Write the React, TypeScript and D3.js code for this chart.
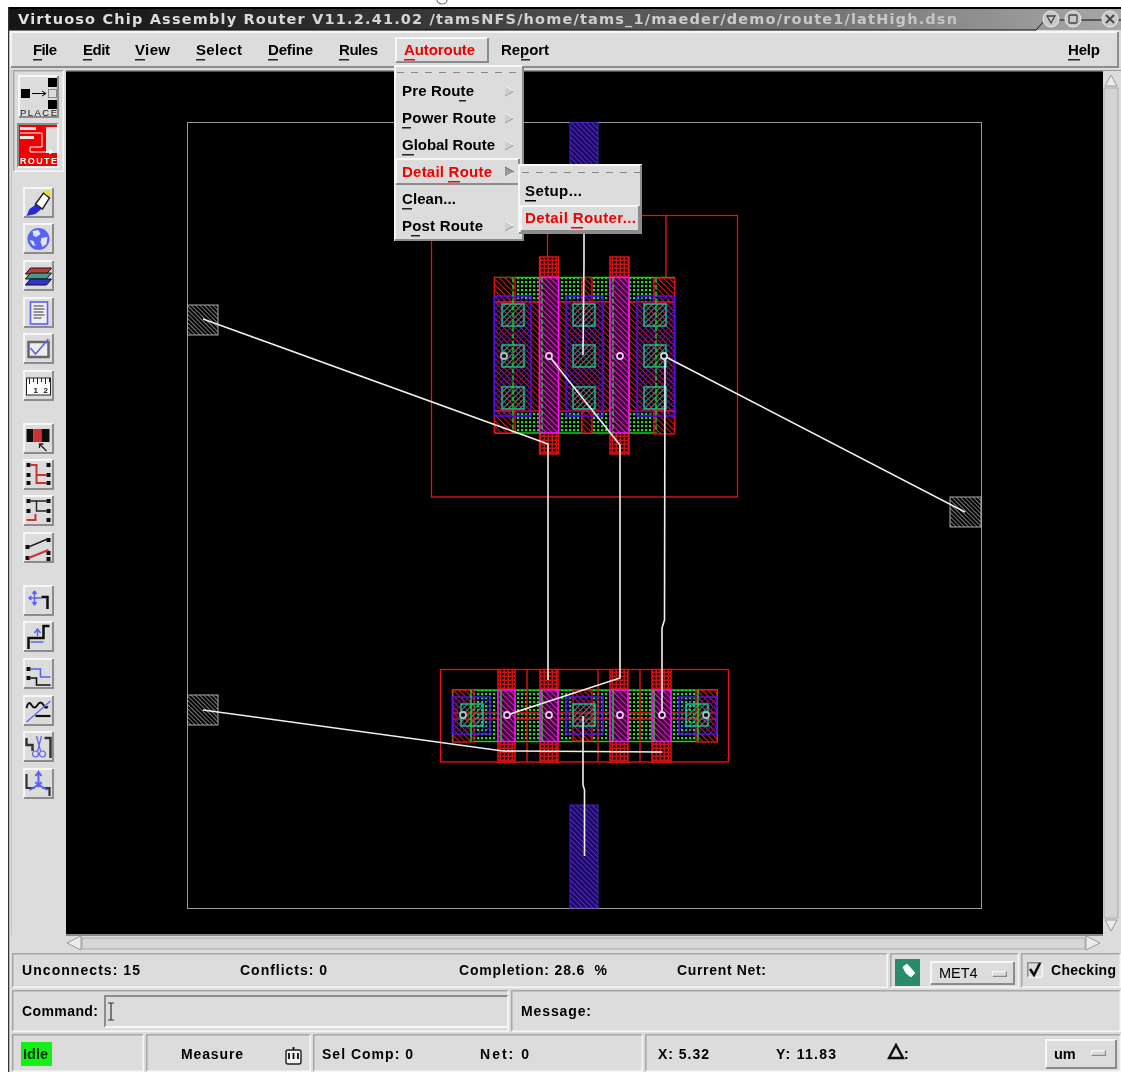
import React from "react";
import * as d3 from "d3";

// ---------- screen text ----------
const titleText = "Virtuoso Chip Assembly Router V11.2.41.02 /tamsNFS/home/tams_1/maeder/demo/route1/latHigh.dsn";
const menuLabels = ["File", "Edit", "View", "Select", "Define", "Rules", "Autoroute", "Report", "Help"];
const menuXs = [33, 83, 135, 196, 268, 339, 404, 501, 1068];
const menuWs = [24, 27, 35, 46, 45, 39, 71, 48, 32];
const menuUnder = [[33, 42], [83, 92], [135, 145], [196, 205], [268, 278], [339, 349], [404, 415], [521, 530], [1068, 1080]];
const autorouteItems = ["Pre Route", "Power Route", "Global Route", "Detail Route", "Clean...", "Post Route"];
const autorouteWs = [72, 94, 93, 90, 54, 81];
const autorouteUnder = [[459, 466], [402, 411], [402, 414], [448, 460], [402, 412], [411, 420]];
const autorouteHasArrow = [true, true, true, true, false, true];
const detailItems = ["Setup...", "Detail Router..."];
const detailWs = [57, 111];
const detailUnder = [[525, 536], [571, 583]];
const statusTexts = [
  { t: "Unconnects: 15", x: 22, y: 975, w: 118 },
  { t: "Conflicts: 0", x: 240, y: 975, w: 87 },
  { t: "Completion: 28.6  %", x: 459, y: 975, w: 148 },
  { t: "Current Net:", x: 677, y: 975, w: 89 },
  { t: "Checking", x: 1051, y: 975, w: 65 },
  { t: "Command:", x: 22, y: 1016, w: 76 },
  { t: "Message:", x: 521, y: 1016, w: 70 },
  { t: "Measure", x: 181, y: 1059, w: 62 },
  { t: "Sel Comp: 0", x: 322, y: 1059, w: 91 },
  { t: "Net: 0", x: 480, y: 1059, w: 49 },
  { t: "X: 5.32", x: 658, y: 1059, w: 51 },
  { t: "Y: 11.83", x: 776, y: 1059, w: 60 },
];
const toolY = [203, 239, 276, 313, 349, 386, 439, 475, 511, 548, 601, 637, 674, 711, 747, 784];

// ---------- layout geometry (layout units, mapped by the scales below) ----------
type R = [number, number, number, number];
const board: R = [187.5, 122.5, 981.5, 908.5];
const padsGrey: R[] = [[187.5, 305, 218, 335], [187.5, 695, 218, 725], [950, 497, 981, 527]];
const padsBlue: R[] = [[570, 122.5, 598, 200], [570, 805, 598, 908]];
const frames: R[] = [[431.5, 215.5, 737.5, 497], [440.5, 669.5, 728.5, 762]];

const diffusion: R[] = [[494.5, 277.5, 674.5, 433], [452.5, 690, 717, 741.5]];
const redFill: R[] = [
  [494.5, 302, 674.5, 411], [494.5, 277.5, 515, 302], [494.5, 411, 515, 433], [654, 278, 674.5, 302], [654, 411, 674.5, 434],
  [582, 277.5, 592, 302], [582, 411, 592, 433],
  [453, 690, 474, 742], [696, 690, 717, 742], [573, 690, 592, 741],
];
const metal: R[] = [
  [494.5, 296, 531, 416], [566, 296, 603, 416], [637, 296, 674.5, 416],
  [452.5, 697, 490, 734], [566, 697, 603, 734], [679, 697, 717, 734],
];
const polyFingers: R[] = [
  [539.5, 257, 558.5, 454], [610, 257, 629, 454],
  [498, 669.5, 515, 762], [540, 669.5, 558, 762], [610, 669.5, 628, 762], [652, 669.5, 671, 762],
];
const gates: R[] = [
  [539.5, 277.5, 558.5, 433], [610, 277.5, 629, 433],
  [498, 690, 515, 741.5], [540, 690, 558, 741.5], [610, 690, 628, 741.5], [652, 690, 671, 741.5],
];
const contactXU = [502, 573, 644];
const contactYU = [304, 345, 387];
const contactXL = [461, 573, 686];
const contactYL = [704];
const contactSize = 22;
const greenDashed = [513, 542, 613, 656];
const greenSolid = [471, 501, 542, 613, 654, 698];
const redVerts = [527, 553, 598, 617, 640];
const redStubs: [number, number, number][] = [[547.5, 215, 257], [666, 215, 278]];
const redHoriz: [number, number, number][] = [[453, 717, 713], [453, 717, 719]];
const pins: [number, number, string][] = [
  [504, 356, "#9cc"], [549, 356, "#fbf"], [620, 356, "#fbf"], [664, 356, "#cdd"],
  [463, 715, "#9cc"], [507, 715, "#fbf"], [549, 715, "#fbf"], [620, 715, "#fbf"], [662, 715, "#fbf"], [706, 715, "#9cc"],
];
const wires: [number, number][][] = [
  [[203, 319], [548, 444], [548, 680]],
  [[549, 356], [620, 445], [620, 678], [507, 715]],
  [[665, 356], [664.5, 620], [662, 628], [662, 716]],
  [[664, 356], [965, 512]],
  [[584, 232], [584, 264], [583, 355]],
  [[203, 710], [503, 751], [662, 752]],
  [[583, 716], [583, 785], [584.5, 790], [584.5, 856]],
];

const sx = d3.scaleLinear().domain([board[0], board[2]]).range([board[0], board[2]]);
const sy = d3.scaleLinear().domain([board[1], board[3]]).range([board[1], board[3]]);
const wireLine = d3.line<[number, number]>().x((d) => sx(d[0])).y((d) => sy(d[1]));

const GREY = "#dcdcdc";
const FONT = "'Liberation Sans', sans-serif";

const Box = ({ r, fill, stroke, sw = 1 }: { r: R; fill: string; stroke?: string; sw?: number }) => (
  <rect x={sx(r[0])} y={sy(r[1])} width={sx(r[2]) - sx(r[0])} height={sy(r[3]) - sy(r[1])} fill={fill} stroke={stroke ?? "none"} strokeWidth={sw} />
);

const Bevel = ({ x, y, w, h, sunken = false, bw = 2, fill = GREY, soft = false }: any) => {
  const dark = soft ? "#a6a6a6" : "#8c8c8c";
  const a = sunken ? dark : "#f6f6f6";
  const b = sunken ? "#f6f6f6" : dark;
  const o = bw / 2;
  return (
    <g fill="none" strokeWidth={bw}>
      <rect x={x} y={y} width={w} height={h} fill={fill} />
      <path d={`M${x + o},${y + h - o}V${y + o}H${x + w - o}`} stroke={a} />
      <path d={`M${x + o},${y + h - o}H${x + w - o}V${y + o}`} stroke={b} />
    </g>
  );
};

const Txt = ({ x, y, w, t, fill = "#000", size = 15 }: any) => (
  <text x={x} y={y} textLength={w} lengthAdjust="spacing" fontFamily={FONT} fontWeight="700" fontSize={size} fill={fill} xmlSpace="preserve">{t}</text>
);

const Under = ({ a, y, fill = "#222" }: any) => <rect x={a[0]} y={y} width={a[1] - a[0]} height={1.5} fill={fill} />;

const Arrow = ({ x, y, dark = false }: any) => (
  <g>
    <path d={`M${x - 4},${y - 5}L${x + 5},${y}L${x - 4},${y + 5}Z`} fill={dark ? "#9a9a9a" : "#cfcfcf"} />
    <path d={`M${x - 4},${y + 5}L${x + 5},${y}`} stroke={dark ? "#eee" : "#999"} strokeWidth={1} />
    <path d={`M${x - 4},${y - 5}L${x + 5},${y}`} stroke={dark ? "#666" : "#f2f2f2"} strokeWidth={1} />
  </g>
);

const BLUE = "#5a62f0";
function Icon({ i }: { i: number }) {
  const k = "#111";
  const sq = (x: number, y: number, s = 4) => <rect x={x} y={y} width={s} height={s} fill={k} />;
  switch (i) {
    case 0:
      return (<g>
        <path d="M-12,13L-9,6L-2,1L3,6L-3,11Z" fill="#2a2ad8" />
        <path d="M-3,1L5,-10L11,-5L4,6Z" fill="#fff" stroke="#222" strokeWidth={1.5} />
        <path d="M4,-12L11,-13L13,-7L8,-8Z" fill="#e8d84a" />
      </g>);
    case 1:
      return (<g>
        <circle r={11} fill={BLUE} />
        <path d="M-6,-8L0,-9L2,-5L-2,-2L-5,-3Z M3,-1L9,-2L8,5L4,8L2,3Z M-9,1L-5,2L-3,7L-6,6Z" fill="#dfe3ff" />
      </g>);
    case 2:
      return (<g stroke="#111" strokeWidth={1}>
        <path d="M-8,-8L13,-8L8,-2L-13,-2Z" fill="#c23a3a" />
        <path d="M-8,-3L13,-3L8,3L-13,3Z" fill="#3f9a8e" />
        <path d="M-8,3L13,3L8,9L-13,9Z" fill="#3333cc" />
      </g>);
    case 3:
      return (<g>
        <rect x={-8} y={-11} width={17} height={22} fill="#eee" stroke={BLUE} strokeWidth={1.6} />
        <path d="M-5,-7H5M-5,-4H6M-5,-1H5M-5,2H6M-5,5H3" stroke="#777" strokeWidth={1.3} />
      </g>);
    case 4:
      return (<g>
        <rect x={-10} y={-7} width={20} height={15} fill="#eee" stroke="#666" strokeWidth={2.5} />
        <path d="M-8,-1L-3,5L10,-10" fill="none" stroke={BLUE} strokeWidth={1.6} />
      </g>);
    case 5:
      return (<g>
        <rect x={-12} y={-8} width={24} height={17} fill="#fff" stroke="#222" strokeWidth={1} />
        <path d="M-9,-8V-2M-5,-8V-4M-1,-8V-2M3,-8V-4M7,-8V-2M11,-8V-4" stroke="#222" />
        <text x={-5} y={7} fontSize={8} fontFamily={FONT} fontWeight={700} fill="#111">1</text>
        <text x={5} y={7} fontSize={8} fontFamily={FONT} fontWeight={700} fill="#111">2</text>
      </g>);
    case 6:
      return (<g>
        <rect x={-12} y={-10} width={7} height={13} fill={k} />
        <rect x={-5} y={-10} width={8} height={13} fill="#cc3333" />
        <rect x={3} y={-10} width={8} height={13} fill={k} />
        <path d="M8,12L1,5M1,9V5H5" fill="none" stroke="#222" strokeWidth={1.3} />
      </g>);
    case 7:
      return (<g>
        {sq(-12, -12)}{sq(8, -12)}{sq(-12, -2)}{sq(8, 6)}{sq(8, -2)}
        <path d="M-8,-10H-2V8H8M-2,0H8" fill="none" stroke="#cc3333" strokeWidth={2} />
        {sq(-12, 6)}
      </g>);
    case 8:
      return (<g>
        {sq(-12, -12)}{sq(8, -12)}{sq(-12, -2)}{sq(8, -2)}{sq(8, 7)}
        <path d="M-8,-10H-2V0H8M-2,0V-10H8" fill="none" stroke="#222" strokeWidth={1.4} />
        <path d="M-12,9H-3V3" fill="none" stroke="#cc3333" strokeWidth={2} />
      </g>);
    case 9:
      return (<g>
        {sq(-13, -3)}{sq(8, -10)}{sq(-13, 8)}{sq(8, 3)}{sq(8, 9)}
        <path d="M-10,-1L9,-9" stroke="#222" strokeWidth={1.4} />
        <path d="M-10,10L10,2" stroke="#cc3333" strokeWidth={2} />
      </g>);
    case 10:
      return (<g>
        <path d="M-4,-10V4M-10,-3H3M-4,-10L-6,-7M-4,-10L-2,-7M-4,4L-6,1M-4,4L-2,1M-10,-3L-7,-5M-10,-3L-7,-1" fill="none" stroke={BLUE} strokeWidth={1.5} />
        <path d="M3,-4H9V8" fill="none" stroke="#111" strokeWidth={2.5} />
      </g>);
    case 11:
      return (<g>
        <path d="M-10,12V1H5V-11H11" fill="none" stroke="#111" strokeWidth={2.5} />
        <path d="M-1,-6V-1M-4,-4L-1,-8L2,-4M-8,5H5" fill="none" stroke={BLUE} strokeWidth={1.5} />
      </g>);
    case 12:
      return (<g>
        {sq(-12, -7)}{sq(-12, 2)}
        <path d="M-8,-5H2V3H12" fill="none" stroke={BLUE} strokeWidth={1.6} />
        <path d="M-8,4H-2V11H12" fill="none" stroke="#111" strokeWidth={1.6} />
      </g>);
    case 13:
      return (<g>
        <path d="M-12,-3Q-10,-11 -7,-6T-1,-6T5,-6T9,-5" fill="none" stroke="#111" strokeWidth={2} />
        <path d="M-12,11L12,-10" stroke={BLUE} strokeWidth={1.2} />
        <path d="M-3,5H12" stroke="#111" strokeWidth={2.2} />
      </g>);
    case 14:
      return (<g>
        <path d="M-12,-9V-2H-6V4M6,-9H12V11" fill="none" stroke="#333" strokeWidth={2.5} />
        <path d="M-2,-11L2,4M3,-11L-1,4" stroke={BLUE} strokeWidth={1.2} />
        <circle cx={-3} cy={7} r={3} fill="none" stroke={BLUE} strokeWidth={1.2} />
        <circle cx={4} cy={7} r={3} fill="none" stroke={BLUE} strokeWidth={1.2} />
      </g>);
    default:
      return (<g>
        <path d="M-12,-10V4H-4M4,4H11V12" fill="none" stroke="#333" strokeWidth={2.2} />
        <path d="M0,-11V1M-3,-8L0,-12L3,-8M-3,-2L0,2L3,-2M-9,6L0,1L9,6" fill="none" stroke={BLUE} strokeWidth={2} />
      </g>);
  }
}

const Hatch = ({ id, color, dir, sp = 4, sw = 1.3, bg }: any) => (
  <pattern id={id} width={sp} height={sp} patternUnits="userSpaceOnUse" patternTransform={`rotate(${dir})`}>
    {bg && <rect width={sp} height={sp} fill={bg} />}
    <line x1={0} y1={0} x2={0} y2={sp} stroke={color} strokeWidth={sw} />
  </pattern>
);
const Dots = ({ id, color, sp = 4, r = 1, bg = "#000" }: any) => (
  <pattern id={id} width={sp} height={sp} patternUnits="userSpaceOnUse">
    <rect width={sp} height={sp} fill={bg} />
    <rect x={1} y={1} width={r * 2} height={r * 2} fill={color} />
  </pattern>
);

export default function App() {
  return (
    <svg width={1121} height={1072} viewBox="0 0 1121 1072" style={{ position: "absolute", left: 0, top: 0, background: "#fff" }}>
      <defs>
        <filter id="soft" x="0" y="0" width="100%" height="100%">
          <feGaussianBlur stdDeviation="0.4" />
        </filter>
        <linearGradient id="titleG" x1="0" x2="1" y1="0" y2="0">
          <stop offset="0" stopColor="#141414" />
          <stop offset="0.35" stopColor="#333" />
          <stop offset="0.7" stopColor="#6e6e6e" />
          <stop offset="1" stopColor="#a8a8a8" />
        </linearGradient>
        <linearGradient id="titleT" x1="0" x2="1" y1="0" y2="0">
          <stop offset="0" stopColor="#e0e0e0" />
          <stop offset="1" stopColor="#c4c4c4" />
        </linearGradient>
        <Hatch id="hRed" color="#e01818" dir={-45} sp={4} sw={2} />
        <Hatch id="hBlue" color="#4a14e0" dir={45} sp={4} sw={1.7} />
        <Hatch id="hPad" color="#6a2cd8" dir={-45} sp={3.6} sw={1.7} bg="#180a60" />
        <Hatch id="hMag" color="#e020e0" dir={-45} sp={4} sw={2} />
        <Hatch id="hTeal" color="#10b878" dir={45} sp={4} sw={1.7} />
        <Hatch id="hGrey" color="#e0e0e0" dir={-45} sp={3} sw={1.1} />
        <Dots id="dGreen" color="#20e020" sp={4} r={1.1} />
        <Dots id="dRed" color="#000" sp={4} r={1.2} bg="#c01414" />
      </defs>

      <g filter="url(#soft)">
      {/* clipped caption descender above the window */}
      <path d="M437,0A5,4 0 0 0 447,0" fill="none" stroke="#777" strokeWidth={1.2} />

      {/* window */}
      <rect x={8} y={7} width={1113} height={1065} fill={GREY} />
      <rect x={8} y={7} width={1113} height={2} fill="#000" />
      <rect x={8} y={9} width={1113} height={21} fill="url(#titleG)" />
      <text x={18} y={24} textLength={939} lengthAdjust="spacing" fontFamily="'DejaVu Sans', sans-serif" fontWeight="700" fontSize={14.5} fill="url(#titleT)">{titleText}</text>
      <path d="M8,30H1036L1045,20H1121" fill="none" stroke="#111" strokeWidth={1} />
      {[1051, 1073, 1110].map((x, i) => (
        <g key={x}>
          <circle cx={x} cy={19} r={8} fill="#c8c8c8" stroke="#e8e8e8" />
          {i === 0 && <path d={`M${x - 4},${16}H${x + 4}L${x},${23}Z`} fill="none" stroke="#444" strokeWidth={1.3} />}
          {i === 1 && <rect x={x - 4} y={15} width={8} height={8} rx={1} fill="none" stroke="#444" strokeWidth={1.3} />}
          {i === 2 && <path d={`M${x - 4},15L${x + 4},23M${x + 4},15L${x - 4},23`} stroke="#444" strokeWidth={1.8} />}
        </g>
      ))}

      {/* menu bar */}
      <Bevel x={10} y={31} w={1109} h={37} />
      {menuLabels.map((m, i) => m === "Autoroute" ? null : (
        <g key={m}>
          <Txt x={menuXs[i]} y={55} w={menuWs[i]} t={m} />
          <Under a={menuUnder[i]} y={59} />
        </g>
      ))}

      {/* canvas */}
      <rect x={66} y={71} width={1037} height={864} fill="#000" />
      <rect x={66} y={70} width={1055} height={1.5} fill="#999" />

      {/* routed design */}
      <g>
        <Box r={board} fill="none" stroke="#9a9a9a" />
        {padsGrey.map((r, i) => <Box key={i} r={r} fill="url(#hGrey)" stroke="#aaa" />)}
        {padsBlue.map((r, i) => <Box key={i} r={r} fill="url(#hPad)" stroke="#4a20c0" />)}
        {frames.map((r, i) => <Box key={i} r={r} fill="none" stroke="#f01010" sw={1.3} />)}
        {redStubs.map(([x, a, b], i) => <line key={i} x1={sx(x)} x2={sx(x)} y1={sy(a)} y2={sy(b)} stroke="#f01010" sw-dummy="" strokeWidth={1.3} />)}
        {diffusion.map((r, i) => <Box key={i} r={r} fill="url(#dGreen)" stroke="#10e010" sw={1.4} />)}
        {redFill.map((r, i) => <Box key={i} r={r} fill="#000" />)}
        {redFill.map((r, i) => <Box key={i} r={r} fill="url(#hRed)" stroke="#e81010" sw={1.3} />)}
        {redVerts.map((x) => <line key={x} x1={sx(x)} x2={sx(x)} y1={sy(669.5)} y2={sy(762)} stroke="#f01010" strokeWidth={1.3} />)}
        {redHoriz.map(([a, b, y], i) => <line key={i} x1={sx(a)} x2={sx(b)} y1={sy(y)} y2={sy(y)} stroke="#e01010" strokeWidth={1.3} />)}
        {metal.map((r, i) => <Box key={i} r={r} fill="url(#hBlue)" stroke="#5010f0" sw={1.5} />)}
        {polyFingers.map((r, i) => <Box key={i} r={r} fill="url(#dRed)" stroke="#f01010" sw={1.4} />)}
        {gates.map((r, i) => <Box key={i} r={r} fill="#400030" />)}
        {gates.map((r, i) => <Box key={i} r={r} fill="url(#hMag)" stroke="#ff10ff" sw={1.6} />)}
        {[[contactXU, contactYU], [contactXL, contactYL]].map(([xs, ys], g) =>
          xs.map((x) => ys.map((y) => (
            <Box key={`${g}${x}${y}`} r={[x, y, x + contactSize, y + contactSize]} fill="url(#hTeal)" stroke="#18c890" sw={1.4} />
          ))))}
        {greenDashed.map((x) => <line key={x} x1={sx(x)} x2={sx(x)} y1={sy(277.5)} y2={sy(433)} stroke="#10e020" strokeWidth={1.4} strokeDasharray="5 2" />)}
        {greenSolid.map((x) => <line key={x} x1={sx(x)} x2={sx(x)} y1={sy(690)} y2={sy(741.5)} stroke="#10e020" strokeWidth={1.4} />)}
        {wires.map((w, i) => <path key={i} d={wireLine(w) ?? ""} fill="none" stroke="#f0f0f0" strokeWidth={1.6} />)}
        {pins.map(([x, y, c], i) => <circle key={i} cx={sx(x)} cy={sy(y)} r={3} fill="#000" stroke={c} strokeWidth={1.8} />)}
      </g>

      {/* left tool strip */}
      <rect x={8} y={68} width={58} height={870} fill={GREY} />
      <rect x={8} y={7} width={1.2} height={1065} fill="#333" />
      <rect x={11} y={70} width={1} height={865} fill="#c4c4c4" />
      <Bevel x={13} y={70} w={51} h={102} sunken soft bw={1.5} />
      <Bevel x={18} y={75} w={41} h={43} />
      <g>
        <rect x={48} y={78} width={9} height={9} fill="#000" />
        <rect x={21} y={89} width={9} height={9} fill="#000" />
        <rect x={48.5} y={89.5} width={8} height={8} fill="none" stroke="#333" strokeDasharray="1 1" />
        <rect x={48} y={100} width={9} height={9} fill="#000" />
        <path d="M32,93.5H45M42,91L46,93.5L42,96" fill="none" stroke="#000" />
        <text x={20} y={116} textLength={37} fontFamily={FONT} fontSize={9.5} fill="#111">PLACE</text>
      </g>
      <Bevel x={17} y={123} w={42} h={45} sunken />
      <g>
        <rect x={19} y={125} width={38} height={41} fill="#f00000" />
        <rect x={46} y={127} width={11} height={26} fill="#dcdcdc" />
        <path d="M20,127H36V130H20ZM20,136H34V139H20Z" fill="#e8e8e8" />
        <path d="M20,133H42V147H30V152H52M49,150L53,152L49,154" fill="none" stroke="#fff" />
        <text x={20} y={164} textLength={37} fontFamily={FONT} fontWeight={700} fontSize={9} fill="#fff">ROUTE</text>
      </g>
      {toolY.map((y, i) => (
        <g key={y}>
          <Bevel x={23} y={y - 16} w={31} h={31} />
          <g transform={`translate(38.5,${y})`}><Icon i={i} /></g>
        </g>
      ))}

      {/* vertical and horizontal scrollbars */}
      <rect x={1103} y={71} width={18} height={881} fill={GREY} />
      <rect x={1104} y={88} width={14} height={830} fill="#d4d4d4" stroke="#aaa" />
      <path d="M1111,75L1117,86H1105Z" fill="#ececec" stroke="#999" />
      <path d="M1111,931L1117,920H1105Z" fill="#ececec" stroke="#999" />
      <rect x={66} y={935} width={1055} height={17} fill={GREY} />
      <rect x={66} y={934} width={1037} height={2} fill="#888" />
      <rect x={82} y={938} width={1003} height={11} fill="#d6d6d6" stroke="#aaa" />
      <path d="M67,943L81,936V950Z" fill="#ececec" stroke="#999" />
      <path d="M1100,943L1086,936V950Z" fill="#ececec" stroke="#999" />

      {/* status rows */}
      <Bevel x={12} y={953} w={876} h={35} sunken soft bw={1.5} />
      <Bevel x={890} y={953} w={129} h={35} sunken soft bw={1.5} />
      <Bevel x={1021} y={953} w={100} h={35} sunken soft bw={1.5} />
      <Bevel x={12} y={990} w={497} h={42} sunken soft bw={1.5} />
      <Bevel x={511} y={990} w={610} h={42} sunken soft bw={1.5} />
      <Bevel x={12} y={1034} w={132} h={38} sunken soft bw={1.5} />
      <Bevel x={146} y={1034} w={165} h={38} sunken soft bw={1.5} />
      <Bevel x={313} y={1034} w={330} h={38} sunken soft bw={1.5} />
      <Bevel x={645} y={1034} w={476} h={38} sunken soft bw={1.5} />
      <Bevel x={104} y={995} w={405} h={33} sunken />

      <rect x={895} y={959} width={25} height={27} fill="#2a8a6a" />
      <path d="M903,967L907,964L915,973L911,977L906,973Z" fill="#fff" stroke="#dff" />
      <Bevel x={930} y={961} w={85} h={24} />
      <text x={939} y={978} fontFamily={FONT} fontSize={14.5} fill="#000">MET4</text>
      <Bevel x={992} y={971} w={15} h={6} bw={1.2} />
      <Bevel x={1027} y={962} w={16} h={16} sunken bw={1.5} />
      <path d="M1030,969L1034,975L1040,963" fill="none" stroke="#111" strokeWidth={2.6} />
      <Bevel x={1045} y={1039} w={72} h={30} />
      <text x={1054} y={1059} fontFamily={FONT} fontSize={14.5} fontWeight={700} fill="#000">um</text>
      <Bevel x={1091} y={1050} w={15} h={6} bw={1.2} />

      {statusTexts.map((s) => <Txt key={s.t} x={s.x} y={s.y} w={s.w} t={s.t} size={14} />)}
      <rect x={21} y={1042} width={31} height={24} fill="#14f014" />
      <Txt x={23} y={1059} w={25} t="Idle" size={14.5} fill="#031" />
      <path d="M108,1003H114M111,1003V1020M108,1020H114" fill="none" stroke="#333" strokeWidth={1.2} />
      <rect x={286} y={1050} width={15} height={14} rx={2} fill="#f2f2f2" stroke="#222" strokeWidth={1.4} />
      <path d="M289,1053V1059M293.5,1053V1059M298,1053V1059M293.5,1047V1050" stroke="#111" strokeWidth={1.8} />
      <path d="M897,1045L890,1058H904Z" fill="none" stroke="#111" strokeWidth={2.4} transform="translate(-1,0)" />
      <Txt x={904} y={1059} w={5} t=":" size={14} />

      {/* autoroute drop-down */}
      <Bevel x={395} y={37} w={94} h={26} bw={2} />
      <Txt x={404} y={55} w={71} t="Autoroute" fill="#f00000" />
      <Under a={menuUnder[6]} y={59} fill="#f00000" />
      <Bevel x={394} y={65} w={130} h={176} />
      <line x1={397} x2={521} y1={72.5} y2={72.5} stroke="#888" strokeDasharray="7 7" />
      <Bevel x={395} y={158} w={125} h={27} />
      {autorouteItems.map((m, i) => {
        const y = 96 + i * 27;
        const hot = m === "Detail Route";
        return (
          <g key={m}>
            <Txt x={402} y={y} w={autorouteWs[i]} t={m} fill={hot ? "#f00000" : "#000"} />
            <Under a={autorouteUnder[i]} y={y + 4} fill={hot ? "#f00000" : "#222"} />
            {autorouteHasArrow[i] && <Arrow x={509} y={y - 5} dark={hot} />}
          </g>
        );
      })}

      {/* detail route cascade */}
      <Bevel x={518} y={164} w={124} h={70} />
      <line x1={522} x2={640} y1={172.5} y2={172.5} stroke="#888" strokeDasharray="7 7" />
      <Bevel x={520} y={205} w={120} h={27} />
      {detailItems.map((m, i) => {
        const y = 196 + i * 27;
        const c = i === 1 ? "#f00000" : "#000";
        return (
          <g key={m}>
            <Txt x={525} y={y} w={detailWs[i]} t={m} fill={c} />
            <Under a={detailUnder[i]} y={y + 4} fill={c} />
          </g>
        );
      })}
      </g>
    </svg>
  );
}
